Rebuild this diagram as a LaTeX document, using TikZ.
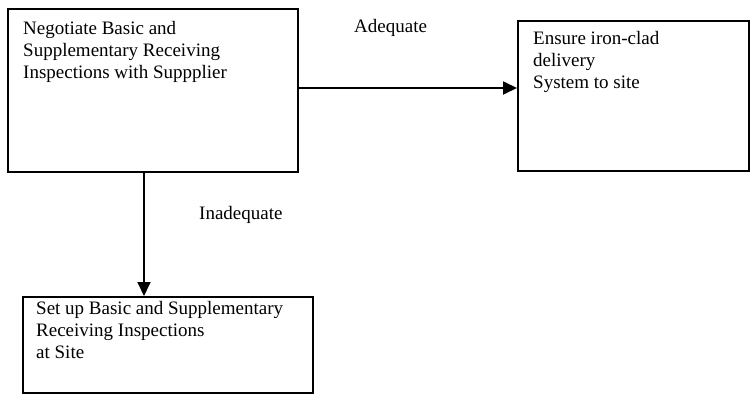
\documentclass[tikz,border=0pt]{standalone}
\usepackage{fontspec}
\setmainfont{Liberation Serif}
\usetikzlibrary{arrows.meta}
\begin{document}
\begin{tikzpicture}[x=1pt,y=-1pt,
  boxstyle/.style={draw=black,line width=1.8pt,inner sep=0pt},
  txt/.style={anchor=north west,inner sep=0pt,align=left,font=\fontsize{19}{22}\selectfont},
  lbl/.style={anchor=base west,inner sep=0pt,font=\fontsize{19}{22}\selectfont},
  conn/.style={line width=1.8pt,-{Triangle[length=14pt,width=13pt]}}]
\useasboundingbox (0,0) rectangle (750,394);
\node[boxstyle,minimum width=290pt,minimum height=163pt,anchor=north west] (A) at (7,8) {};
\node[boxstyle,minimum width=231pt,minimum height=150pt,anchor=north west] (B) at (517,20) {};
\node[boxstyle,minimum width=290pt,minimum height=96pt,anchor=north west] (C) at (22,296) {};
\node[txt] (At) at (23,21) {Negotiate Basic and\\Supplementary Receiving\\Inspections with Suppplier};
\node[txt] (Bt) at (533,31) {Ensure iron-clad\\delivery\\System to site};
\node[txt] (Ct) at (36,301) {Set up Basic and Supplementary\\Receiving Inspections\\at Site};
\coordinate (a1) at (297,88);
\coordinate (b1) at (517,88);
\draw[conn] (A.east |- a1) -- (B.west |- b1);
\coordinate (c1) at (144,0);
\draw[conn] (A.south -| c1) -- (C.north -| c1);
\node[lbl] (ad) at (354,32) {Adequate};
\node[lbl] (inad) at (199,219) {Inadequate};
\end{tikzpicture}
\end{document}
